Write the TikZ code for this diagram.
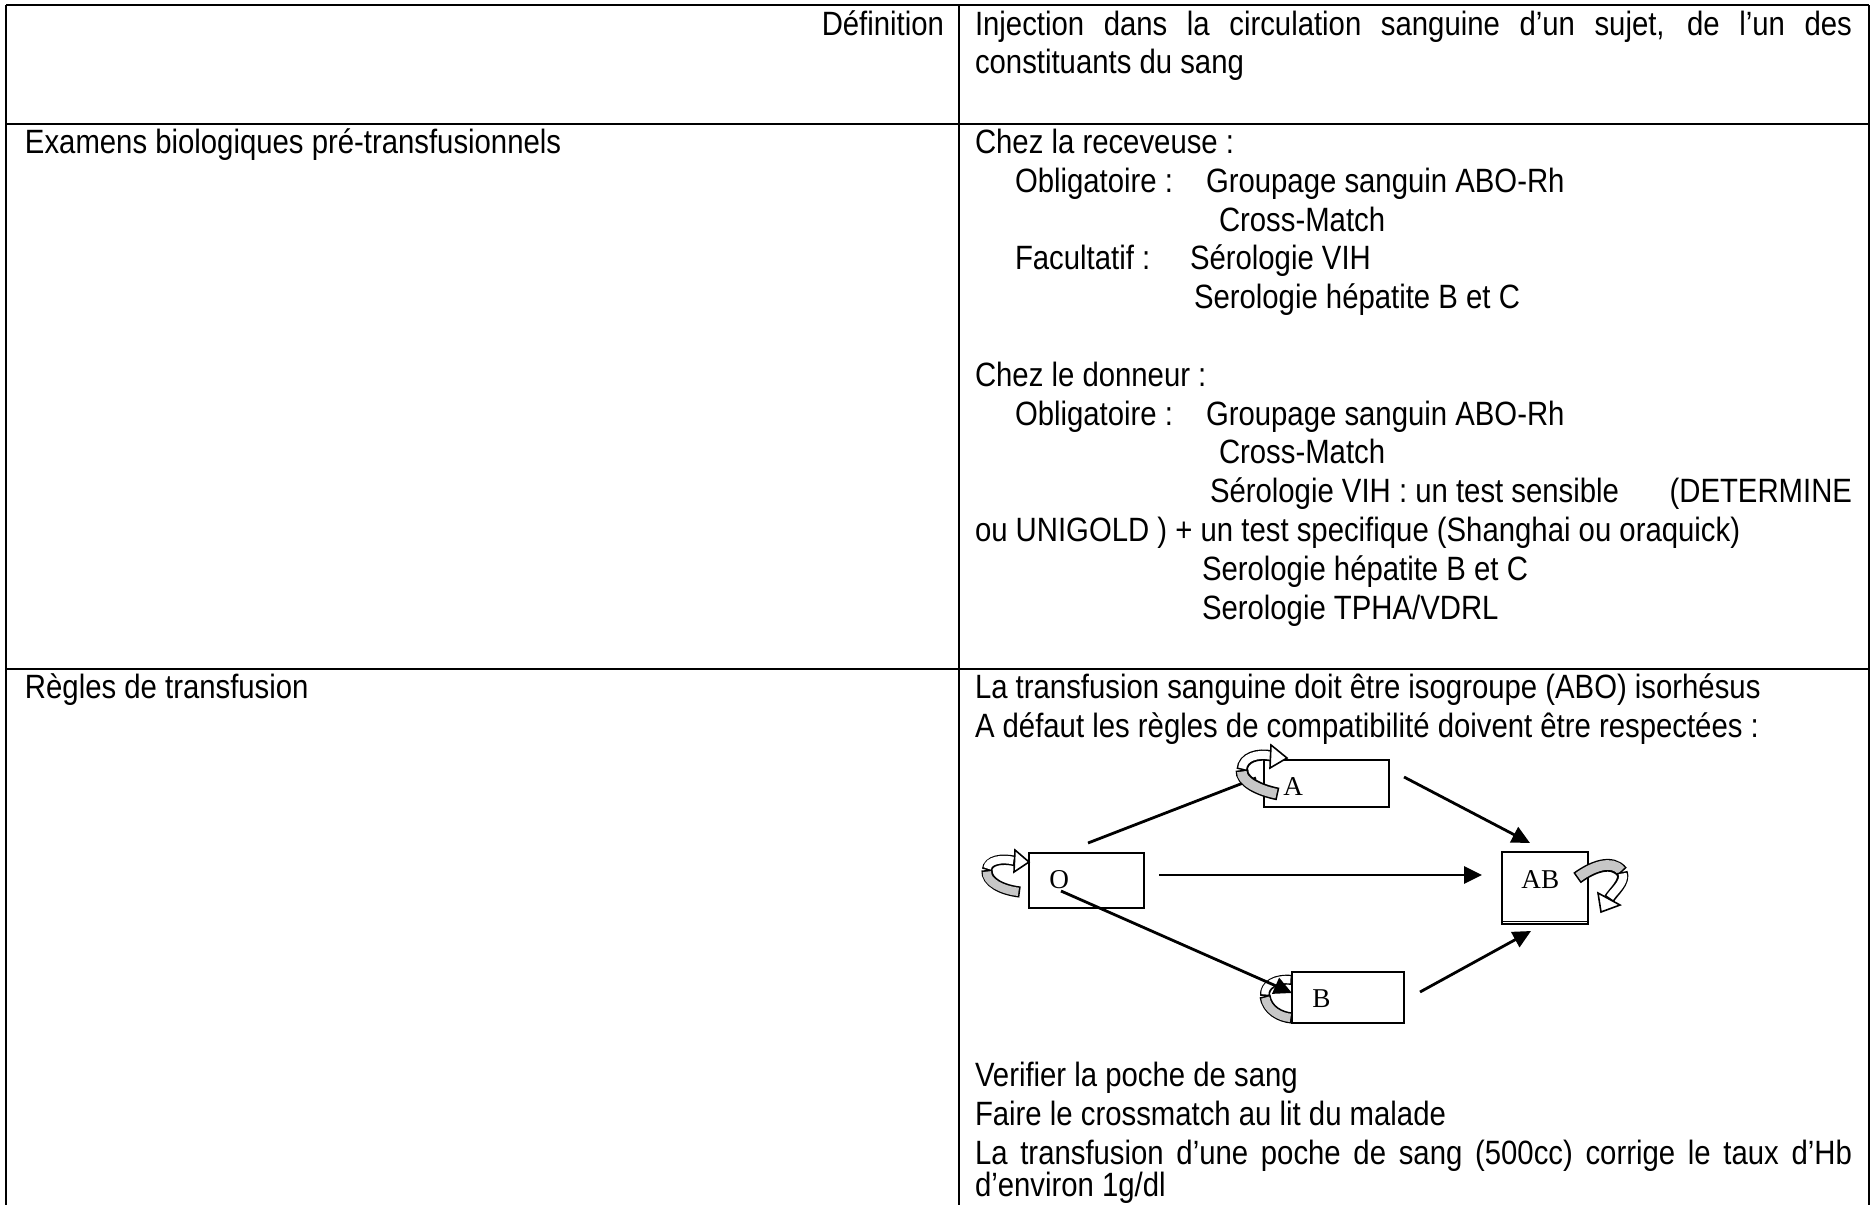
\documentclass[tikz,border=0pt]{standalone}
\usepackage{fontspec}
\setmainfont{Liberation Sans}[FakeStretch=0.87]
\newfontfamily\diagfont{Liberation Serif}
\usetikzlibrary{arrows.meta}

% a twisted band: black outline, coloured inside
\newcommand\twistband[4]{%
  \draw[line width=#1, black, line cap=butt] #4;
  \draw[line width=#2, #3, line cap=butt, shorten <=0.8pt, shorten >=0.8pt] #4;}

\begin{document}
\begin{tikzpicture}[x=0.5pt,y=-0.5pt,
  txt/.style={anchor=base west, inner sep=0pt, outer sep=0pt, yshift=-1pt,
              font=\fontsize{16.85pt}{19.4pt}\selectfont},
  txtr/.style={txt, anchor=base east},
  rule/.style={line width=1pt},
  grpbox/.style={draw, line width=1.2pt, inner sep=0pt, anchor=north west},
  grplab/.style={anchor=base west, inner sep=0pt,
                 font=\diagfont\fontsize{13.6pt}{15pt}\selectfont},
  link/.style={line width=1.4pt},
  arrowlink/.style={link, -{Triangle[length=9pt,width=8.5pt]}},
  headshape/.style={fill=white, draw=black, line width=0.8pt, line join=miter},
]
\useasboundingbox (0,0) rectangle (1870,1205);

% ---------- table rules ----------
\draw[rule] (6,5) -- (1868.5,5);
\draw[rule] (6,123.5) -- (1868.5,123.5);
\draw[rule] (6,668.7) -- (1868.5,668.7);
\draw[rule] (6,5) -- (6,1206);
\draw[rule] (958.5,5) -- (958.5,1206);
\draw[rule] (1868.5,5) -- (1868.5,1206);

% ---------- row 1 ----------
\node[txtr] (def) at (944,33) {Définition};
\node[txt] (defa) at (975,33) {\makebox[438.5pt][s]{Injection dans la circulation sanguine d’un sujet, de l’un des}};
\node[txt] (defb) at (975,71.8) {constituants du sang};

% ---------- row 2 ----------
\node[txt] (exam) at (25,151.5) {Examens biologiques pré-transfusionnels};
\node[txt] (rc0) at (975,151.5) {Chez la receveuse :};
\node[txt] (rc1a) at (1015,190.3) {Obligatoire :};
\node[txt] (rc1b) at (1206,190.3) {Groupage sanguin ABO-Rh};
\node[txt] (rc2) at (1219,229.1) {Cross-Match};
\node[txt] (rc3a) at (1015,267.9) {Facultatif :};
\node[txt] (rc3b) at (1190,267.9) {Sérologie VIH};
\node[txt] (rc4) at (1194,306.7) {Serologie hépatite B et C};
\node[txt] (dn0) at (975,384.3) {Chez le donneur :};
\node[txt] (dn1a) at (1015,423.1) {Obligatoire :};
\node[txt] (dn1b) at (1206,423.1) {Groupage sanguin ABO-Rh};
\node[txt] (dn2) at (1219,461.9) {Cross-Match};
\node[txt] (dn3a) at (1210,500.7) {Sérologie VIH : un test sensible};
\node[txtr] (dn3b) at (1852,500.7) {(DETERMINE};
\node[txt] (dn4) at (975,539.5) {ou UNIGOLD ) + un test specifique (Shanghai ou oraquick)};
\node[txt] (dn5) at (1202,578.3) {Serologie hépatite B et C};
\node[txt] (dn6) at (1202,617.1) {Serologie TPHA/VDRL};

% ---------- row 3 ----------
\node[txt] (regles) at (25,696.7) {Règles de transfusion};
\node[txt] (rg0) at (975,696.7) {La transfusion sanguine doit être isogroupe (ABO) isorhésus};
\node[txt] (rg1) at (975,735.5) {A défaut les règles de compatibilité doivent être respectées :};
\node[txt] (rg2) at (975,1084.7) {Verifier la poche de sang};
\node[txt] (rg3) at (975,1123.5) {Faire le crossmatch au lit du malade};
\node[txt] (rg4) at (975,1162.3) {\makebox[438.5pt][s]{La transfusion d’une poche de sang (500cc) corrige le taux d’Hb}};
\node[txt] (rg5) at (975,1194) {d’environ 1g/dl};

% ---------- compatibility diagram ----------
\node[grpbox, minimum width=57.5pt, minimum height=27.5pt] (boxO) at (1028,852) {};
\node[grpbox, minimum width=62.5pt, minimum height=23.5pt] (boxA) at (1263,759) {};
\node[grpbox, minimum width=56pt, minimum height=25.5pt] (boxB) at (1291,971) {};
\node[grpbox, minimum width=43pt, minimum height=36pt] (boxAB) at (1501,851) {};
\draw[line width=0.6pt] ([yshift=2pt]boxAB.south west) -- ([yshift=2pt]boxAB.south east);

\node[grplab] (labO) at (1049,888) {O};
\node[grplab] (labA) at (1283,795) {A};
\node[grplab] (labB) at (1312,1007) {B};
\node[grplab] (labAB) at (1521,888) {AB};

% connector ends
\coordinate (oa1) at (1088,843);  \coordinate (oa2) at (1256,778);
\coordinate (oab1) at (1159,875); \coordinate (oab2) at (1482,875);
\coordinate (ob1) at (1061,891);  \coordinate (ob2) at (1292,993);
\coordinate (aab1) at (1404,777); \coordinate (aab2) at (1530,843);
\coordinate (bab1) at (1420,992); \coordinate (bab2) at (1531,931);

% self loop on B (under the incoming arrow)
\twistband{5pt}{3.6pt}{white}{(1292,980) .. controls (1276,978) and (1264,985) .. (1265,996)}
\twistband{5.6pt}{4.2pt}{black!22}{(1265,996) .. controls (1267,1010) and (1280,1017) .. (1292,1018)}

\draw[link] (oa1) -- (oa2);
\draw[arrowlink] (oab1) -- (oab2);
\draw[arrowlink] (ob1) -- (ob2);
\draw[arrowlink] (aab1) -- (aab2);
\draw[arrowlink] (bab1) -- (bab2);

% self loop on O
\twistband{5.6pt}{4.2pt}{black!22}{(1020,892) .. controls (1002,890) and (986,882) .. (987,870)}
\twistband{5.2pt}{3.8pt}{white}{(987,870) .. controls (988,860) and (1002,858) .. (1015,861)}
\draw[headshape] (1015,850) -- (1029,862) -- (1014,872) -- cycle;

% self loop on A
\twistband{6.4pt}{4.8pt}{black!22}{(1278,794) .. controls (1258,790) and (1241,781) .. (1242,770)}
\twistband{5.6pt}{4pt}{white}{(1242,770) .. controls (1243,757) and (1258,753) .. (1272,756)}
\draw[headshape] (1271,745) -- (1287,758) -- (1270,768) -- cycle;

% self loop on AB
\twistband{6.4pt}{4.8pt}{black!22}{(1577,878) .. controls (1592,867) and (1612,859) .. (1622,872)}
\twistband{5.6pt}{4pt}{white}{(1622,872) .. controls (1626,882) and (1613,892) .. (1609,899)}
\draw[headshape] (1598,893) -- (1620,905) -- (1601,912) -- cycle;

\end{tikzpicture}
\end{document}
